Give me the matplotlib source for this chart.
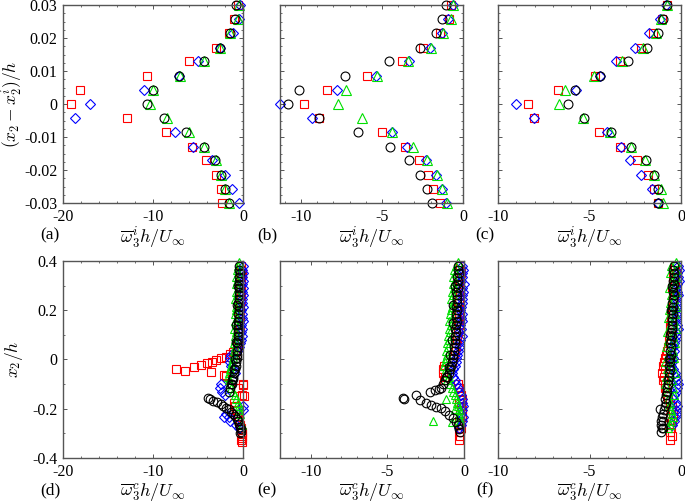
import numpy as np
import matplotlib
matplotlib.use("Agg")
import matplotlib.pyplot as plt
from matplotlib.ticker import MultipleLocator

plt.rcParams['font.family'] = ['Liberation Serif', 'DejaVu Serif']
plt.rcParams['mathtext.fontset'] = 'cm'
plt.rcParams['axes.unicode_minus'] = False

nan = np.nan

# ---------------- top row: 15 levels of (x2 - x2^i)/h ----------------
y_top = [0.03, 0.0257, 0.0214, 0.0171, 0.0129, 0.0086, 0.0043, 0.0,
         -0.0043, -0.0086, -0.0129, -0.0171, -0.0214, -0.0257, -0.03]

a_sq = [-0.6, -1.0, -1.6, -3.0, -6.0, -10.7, -18.1, -19.1, -12.9, -8.6, -5.7, -4.1, -3.0, -2.5, -2.3]
a_di = [-0.3, -0.4, -1.1, -2.6, -5.0, -7.1, -11.0, -17.0, -18.7, -7.6, -5.6, -3.5, -2.0, -1.2, -0.4]
a_tr = [-0.5, -0.6, -1.4, -2.6, -4.35, -7.0, -10.0, -10.3, -8.5, -5.95, -4.3, -3.0, -2.4, -2.0, -1.6]
a_ci = [-0.8, -0.9, -1.5, -2.6, -4.3, -7.1, -10.0, -10.7, -8.8, -6.3, -4.3, -3.1, -2.4, -2.0, -1.6]

b_sq = [-0.77, -0.87, -1.43, -2.45, -3.8, -5.9, -8.4, -9.8, -8.9, -5.0, -3.6, -2.75, -2.16, -1.87, -1.43]
b_di = [-0.65, -0.95, -1.3, -2.05, -3.33, -5.4, -7.8, -11.3, -9.3, -4.4, -3.47, -2.3, -1.66, -1.32, -1.08]
b_tr = [-0.6, -0.77, -1.22, -2.0, -3.37, -5.33, -7.2, -7.75, -6.27, -4.37, -3.06, -2.2, -1.63, -1.28, -1.0]
b_ci = [-1.08, -1.32, -1.69, -2.67, -4.55, -7.3, -10.1, -10.8, -8.9, -6.5, -4.53, -3.32, -2.63, -2.22, -1.89]

c_sq = [-0.76, -1.03, -1.51, -2.2, -3.31, -4.72, -6.74, -8.36, -8.05, -4.49, -3.31, -2.41, -1.82, -1.48, -1.28]
c_di = [-0.8, -1.15, -1.75, -2.54, -3.58, -4.43, -5.75, -9.04, -8.05, -4.04, -3.3, -2.81, -2.2, -1.6, -1.28]
c_tr = [-0.74, -1.1, -1.39, -2.1, -3.2, -4.75, -6.34, -6.69, -5.35, -3.9, -2.74, -1.96, -1.5, -1.1, -0.97]
c_ci = [-0.76, -0.97, -1.24, -1.87, -2.92, -4.4, -5.78, -6.16, -5.3, -3.82, -2.74, -1.94, -1.48, -1.28, -1.28]

# ---------------- bottom row: x2/h grid (column of profiles) ----------------
y_bot = [0.38, 0.365, 0.35, 0.335, 0.32, 0.305, 0.29, 0.275, 0.26, 0.245,
         0.23, 0.215, 0.2, 0.185, 0.17, 0.155, 0.14, 0.125, 0.11, 0.095,
         0.08, 0.065, 0.05, 0.035, 0.02, 0.005, -0.01, -0.025, -0.04, -0.055,
         -0.07, -0.085, -0.1, -0.115, -0.13, -0.145, -0.16, -0.175, -0.19, -0.205,
         -0.22, -0.235, -0.25, -0.265, -0.28, -0.295, -0.31, -0.325]

# panel (d)
d_ci = [-0.40, -0.45, -0.38, -0.42, -0.47, -0.40, -0.44, -0.50, -0.43, -0.47,
        -0.52, -0.46, -0.50, -0.55, -0.49, -0.53, -0.58, -0.52, -0.56, -0.60,
        -0.57, -0.62, -0.60, -0.66, -0.63, -0.70, -0.76, -0.82, -0.90, -0.98,
        -1.08, -1.20, -1.32, -1.45, -1.60, nan, nan, nan, nan, nan,
        nan, nan, nan, nan, nan, nan, nan, nan]
d_ci_ex_x = [-3.9, -3.7, -3.3, -2.9, -2.5, -2.2, -1.9, -1.6, -1.35, -1.1, -0.9, -0.72,
             -0.55, -0.42, -0.32, -0.25, -0.2, -0.3,
             -0.6, -0.7, -0.75, -0.8, -0.9, -1.0, -1.1, -1.2]
d_ci_ex_y = [-0.155, -0.162, -0.168, -0.174, -0.18, -0.187, -0.195, -0.203, -0.212, -0.221,
             -0.231, -0.241, -0.251, -0.262, -0.273, -0.284, -0.295, -0.30,
             0.3, 0.22, 0.14, 0.07, 0.0, -0.04, -0.08, -0.1]
d_tr = [-0.6, -0.7, -0.55, -0.75, -0.65, -0.8, -0.6, -0.75, -0.7, -0.85,
        -0.7, -0.8, -0.75, -0.9, -0.7, -0.85, -0.8, -0.95, -0.75, -0.9,
        -0.85, -1.0, -0.9, -1.05, -1.0, -1.15, -1.2, -1.3, -1.45, -1.55,
        -1.7, -1.6, -1.5, -1.3, -1.1, -0.9, -0.75, -0.6, -0.5, -0.4,
        -0.35, nan, nan, -0.1, nan, nan, nan, nan]
d_tr_ex_x = [-0.5]
d_tr_ex_y = [0.395]
d_sq = [-0.2, -0.25, -0.15, -0.3, -0.2, -0.25, -0.35, -0.2, -0.3, -0.25,
        -0.4, -0.3, -0.35, -0.45, -0.3, -0.4, -0.5, -0.35, -0.45, -0.55,
        -0.5, -0.6, -0.7, -0.8, -0.9, nan, nan, nan, nan, nan,
        nan, nan, -0.05, -0.6, nan, -0.1, nan, -1.0, -0.9, -0.8,
        -0.7, -0.55, -0.45, -0.35, -0.25, -0.15, -0.1, -0.2]
d_sq_ex_x = [-7.5, -6.45, -5.5, -4.7, -4.05, -3.5, -2.95, -2.4, -1.9, -1.45, -1.15,
             -3.6, -2.1, -1.9, 0.05, 0.1, -0.1, -0.1, -0.1]
d_sq_ex_y = [-0.04, -0.047, -0.032, -0.022, -0.016, -0.009, -0.002, 0.005, 0.011, 0.021, 0.032,
             -0.052, -0.062, -0.068, -0.105, -0.15, -0.30, -0.32, -0.335]
d_di = [-0.05, -0.1, 0.0, -0.1, -0.05, -0.15, 0.0, -0.1, -0.05, -0.15,
        -0.1, 0.0, -0.2, -0.1, -0.15, -0.05, -0.2, -0.1, -0.25, -0.15,
        -0.2, -0.35, -0.5, -0.7, -1.3, -1.45, -1.4, -1.3, -1.1, -0.9,
        nan, nan, -2.5, -2.6, -2.3, -2.0, nan, nan, -0.05, 0.0,
        -1.9, -1.6, -1.4, -0.8, -0.5, nan, nan, nan]
d_di_ex_x = [-2.1]
d_di_ex_y = [-0.235]

# panel (e)
e_ci = [-0.37, -0.42, -0.35, -0.45, -0.40, -0.47, -0.42, -0.50, -0.44, -0.48,
        -0.45, -0.52, -0.47, -0.50, -0.55, -0.48, -0.53, -0.58, -0.52, -0.57,
        -0.60, -0.56, -0.63, -0.66, -0.70, -0.74, -0.80, -0.86, -0.93, -1.00,
        -1.10, -1.22, -1.35, -1.50, nan, nan, nan, nan, nan, nan,
        nan, nan, nan, nan, nan, nan, nan, nan]
e_ci_ex_x = [-4.0, -3.9, -3.1, -2.85, -2.2, -1.9, -1.65, -2.45, -2.15, -1.8, -1.5, -1.25,
             -0.95, -0.72, -0.5, -0.38, -0.3, -0.25,
             -0.6, -0.7, -0.75, -0.8, -0.9, -1.0, -1.15]
e_ci_ex_y = [-0.155, -0.16, -0.143, -0.165, -0.131, -0.124, -0.118, -0.178, -0.185, -0.192,
             -0.199, -0.211, -0.224, -0.238, -0.252, -0.268, -0.282, -0.295,
             0.3, 0.22, 0.15, 0.08, 0.02, -0.03, -0.07]
e_tr = [-0.55, -0.65, -0.5, -0.7, -0.6, -0.75, -0.65, -0.8, -0.7, -0.85,
        -0.75, -0.8, -0.85, -0.9, -0.8, -0.95, -0.85, -1.0, -0.9, -1.05,
        -1.0, -1.1, -1.05, -1.15, -1.1, -1.2, -1.25, -1.3, -1.2, -1.15,
        -1.0, -1.1, -0.9, -0.8, -0.7, -0.6, -0.5, -0.45, -0.4, -0.35,
        -0.3, -0.3, -0.25, nan, nan, nan, nan, nan]
e_tr_ex_x = [-0.4, -2.0, -0.8, -1.2, -0.6]
e_tr_ex_y = [0.395, -0.25, -0.252, -0.16, -0.2]
e_sq = [-0.25, -0.3, -0.2, -0.35, -0.25, -0.3, -0.4, -0.25, -0.35, -0.3,
        -0.3, -0.4, -0.35, -0.45, -0.3, -0.4, -0.35, -0.5, -0.4, -0.45,
        -0.45, -0.5, -0.55, -0.6, -0.65, -0.7, -0.8, -1.3, -1.4, -1.35,
        -1.25, -1.3, -0.4, -0.3, -0.25, -0.2, -0.15, -0.3, -0.2, -0.1,
        -0.25, -0.15, -0.35, -0.3, -0.2, -0.35, -0.25, -0.3]
e_di = [-0.1, -0.05, -0.15, -0.1, -0.2, 0.0, -0.1, -0.05, -0.15, -0.1,
        -0.15, -0.2, -0.25, -0.15, -0.2, -0.1, -0.25, -0.2, -0.3, -0.15,
        -0.25, -0.3, -0.35, -0.4, -0.45, -0.5, -0.55, -0.6, -0.7, -0.8,
        -0.75, -0.6, -0.5, -0.4, -0.3, -0.2, -0.1, -0.15, -0.05, -0.1,
        -0.2, -0.05, -0.1, -0.2, -0.3, nan, nan, nan]

# panel (f)
f_ci = [-0.38, -0.42, -0.36, -0.40, -0.44, -0.38, -0.42, -0.46, -0.40, -0.44,
        -0.47, -0.43, -0.49, -0.45, -0.50, -0.47, -0.52, -0.48, -0.54, -0.50,
        -0.55, -0.58, -0.54, -0.60, -0.57, -0.62, -0.59, -0.65, -0.62, -0.68,
        -0.66, -0.72, -0.70, -0.76, -0.74, -0.80, -0.85, -0.82, -0.90, -0.95,
        -1.0, -1.05, -1.0, -1.08, -1.05, -1.1, nan, nan]
f_ci_ex_x = [-1.15, -1.1, -1.0, -0.5, -0.55, -0.6, -0.65, -0.7]
f_ci_ex_y = [-0.2, -0.25, -0.28, 0.3, 0.2, 0.1, 0.0, -0.1]
f_tr = [-0.55, -0.3, -0.6, -0.25, -0.5, -0.35, -0.65, -0.3, -0.55, -0.4,
        -0.6, -0.3, -0.65, -0.35, -0.7, -0.4, -0.6, -0.3, -0.75, -0.45,
        -0.7, -0.35, -0.8, -0.45, -0.7, -0.4, -0.85, -0.5, -0.75, -0.35,
        -0.8, -0.5, -0.85, -0.45, -0.75, -0.4, -0.7, -0.6, -0.65, -0.55,
        -0.5, -0.45, -0.55, -0.6, -0.7, nan, nan, nan]
f_tr_ex_x = [-0.3]
f_tr_ex_y = [0.395]
f_sq = [-0.35, -0.4, -0.3, -0.45, -0.35, -0.4, -0.5, -0.35, -0.45, -0.4,
        -0.45, -0.5, -0.45, -0.55, -0.5, -0.55, -0.6, -0.5, -0.6, -0.55,
        -0.65, -0.6, -0.7, -0.75, -0.8, -0.9, -0.95, -1.0, -0.9, -1.05,
        -0.95, -1.0, -0.9, -0.85, -0.8, -0.75, -0.7, -0.6, -0.5, -0.55,
        -0.45, -0.6, -0.5, -0.65, -0.55, -0.6, -0.5, -0.6]
f_di = [-0.15, -0.1, -0.2, -0.15, -0.1, -0.2, -0.25, -0.2, -0.15, -0.3,
        -0.25, -0.3, -0.35, -0.25, -0.3, -0.35, -0.2, -0.15, -0.25, -0.3,
        -0.35, -0.4, -0.45, -0.4, -0.5, -0.45, -0.5, -0.55, -0.45, -0.35,
        -0.3, -0.2, -0.15, -0.2, -0.3, -0.4, -0.45, -0.3, -0.2, -0.25,
        -0.3, -0.35, -0.4, -0.5, nan, nan, nan, nan]

RED, BLUE, GREEN, BLACK = '#ff0000', '#0000ff', '#00e000', '#000000'
SPINE = '#555555'

fig = plt.figure(figsize=(6.85, 5.03), dpi=100)

pos = {
    'a': [0.0920, 0.5964, 0.2628, 0.3936],
    'b': [0.4088, 0.5964, 0.2672, 0.3936],
    'c': [0.7270, 0.5964, 0.2672, 0.3936],
    'd': [0.0920, 0.0895, 0.2628, 0.3916],
    'e': [0.4088, 0.0895, 0.2686, 0.3916],
    'f': [0.7270, 0.0895, 0.2672, 0.3916],
}

def style(ax, xlim, xticks, xminor, ylim, yticks, yminor, ylabels):
    ax.set_xlim(*xlim)
    ax.set_ylim(*ylim)
    ax.set_xticks(xticks)
    ax.set_yticks(yticks)
    ax.xaxis.set_minor_locator(MultipleLocator(xminor))
    ax.yaxis.set_minor_locator(MultipleLocator(yminor))
    ax.set_xticklabels([('%g' % t) for t in xticks])
    if ylabels is None:
        ax.set_yticklabels([])
    else:
        ax.set_yticklabels(ylabels)
    ax.tick_params(which='both', direction='in', top=True, right=True,
                   color=SPINE, labelsize=11.5, pad=4)
    ax.tick_params(which='major', length=3, width=0.7)
    ax.tick_params(which='minor', length=1.6, width=0.6)
    for s in ax.spines.values():
        s.set_color(SPINE)
        s.set_linewidth(1.0)

def draw_top(ax, sq, di, tr, ci):
    kw = dict(linestyle='none', markerfacecolor='none', clip_on=False, markeredgewidth=0.8)
    ax.plot(sq, y_top, marker='s', markersize=5.8, markeredgecolor=RED, **kw)
    ax.plot(di, y_top, marker='D', markersize=5.0, markeredgecolor=BLUE, **kw)
    ax.plot(tr, y_top, marker='^', markersize=6.5, markeredgecolor=GREEN, **kw)
    ax.plot(ci, y_top, marker='o', markersize=6.4, markeredgecolor=BLACK, **kw)

def draw_bot(ax, sq, sqx, sqy, di, dix, diy, ci, cix, ciy, tr, trx, try_):
    kw = dict(linestyle='none', markerfacecolor='none', clip_on=False, markeredgewidth=0.8)
    ax.plot(list(sq) + list(sqx), list(y_bot) + list(sqy), marker='s', markersize=5.6,
            markeredgecolor=RED, **kw)
    ax.plot(list(di) + list(dix), list(y_bot) + list(diy), marker='D', markersize=4.6,
            markeredgecolor=BLUE, **kw)
    ax.plot(list(tr) + list(trx), list(y_bot) + list(try_), marker='^', markersize=6.0,
            markeredgecolor=GREEN, **kw)
    ax.plot(list(ci) + list(cix), list(y_bot) + list(ciy), marker='o', markersize=6.2,
            markeredgecolor=BLACK, **kw)

ytl_top = ['0.03', '0.02', '0.01', '0', '-0.01', '-0.02', '-0.03']
yt_top = [0.03, 0.02, 0.01, 0.0, -0.01, -0.02, -0.03]
ytl_bot = ['0.4', '0.2', '0', '-0.2', '-0.4']
yt_bot = [0.4, 0.2, 0.0, -0.2, -0.4]

axa = fig.add_axes(pos['a'])
draw_top(axa, a_sq, a_di, a_tr, a_ci)
style(axa, (-20, 0), [-20, -10, 0], 2, (-0.03, 0.03), yt_top, 0.0025, ytl_top)

axb = fig.add_axes(pos['b'])
draw_top(axb, b_sq, b_di, b_tr, b_ci)
style(axb, (-11.3, 0), [-10, -5, 0], 1, (-0.03, 0.03), yt_top, 0.0025, None)

axc = fig.add_axes(pos['c'])
draw_top(axc, c_sq, c_di, c_tr, c_ci)
style(axc, (-10, 0), [-10, -5, 0], 1, (-0.03, 0.03), yt_top, 0.0025, None)

axd = fig.add_axes(pos['d'])
draw_bot(axd, d_sq, d_sq_ex_x, d_sq_ex_y, d_di, d_di_ex_x, d_di_ex_y,
         d_ci, d_ci_ex_x, d_ci_ex_y, d_tr, d_tr_ex_x, d_tr_ex_y)
style(axd, (-20, 0), [-20, -10, 0], 2, (-0.4, 0.4), yt_bot, 0.1, ytl_bot)

axe = fig.add_axes(pos['e'])
draw_bot(axe, e_sq, [], [], e_di, [], [], e_ci, e_ci_ex_x, e_ci_ex_y, e_tr, e_tr_ex_x, e_tr_ex_y)
style(axe, (-12, 0), [-10, -5, 0], 1, (-0.4, 0.4), yt_bot, 0.1, None)

axf = fig.add_axes(pos['f'])
draw_bot(axf, f_sq, [], [], f_di, [], [], f_ci, f_ci_ex_x, f_ci_ex_y, f_tr, f_tr_ex_x, f_tr_ex_y)
style(axf, (-10, 0), [-10, -5, 0], 1, (-0.4, 0.4), yt_bot, 0.1, None)

xl_top = r'$\overline{\omega}_3^i h/U_\infty$'
xl_bot = r'$\overline{\omega}_3^c h/U_\infty$'
for ax in (axa, axb, axc):
    ax.set_xlabel(xl_top, fontsize=13, labelpad=1)
for ax in (axd, axe, axf):
    ax.set_xlabel(xl_bot, fontsize=13, labelpad=1)

axa.set_ylabel(r'$(x_2-x_2^i)/h$', fontsize=12.5)
axa.yaxis.set_label_coords(-0.21, 0.5)
axd.set_ylabel(r'$x_2/h$', fontsize=12.5)
axd.yaxis.set_label_coords(-0.21, 0.5)

for ax, lab in zip((axa, axb, axc, axd, axe, axf), ['(a)', '(b)', '(c)', '(d)', '(e)', '(f)']):
    ax.text(-0.072, -0.165, lab, transform=ax.transAxes, ha='center', va='center',
            fontsize=12.5)

fig.savefig('out.png', dpi=100)
